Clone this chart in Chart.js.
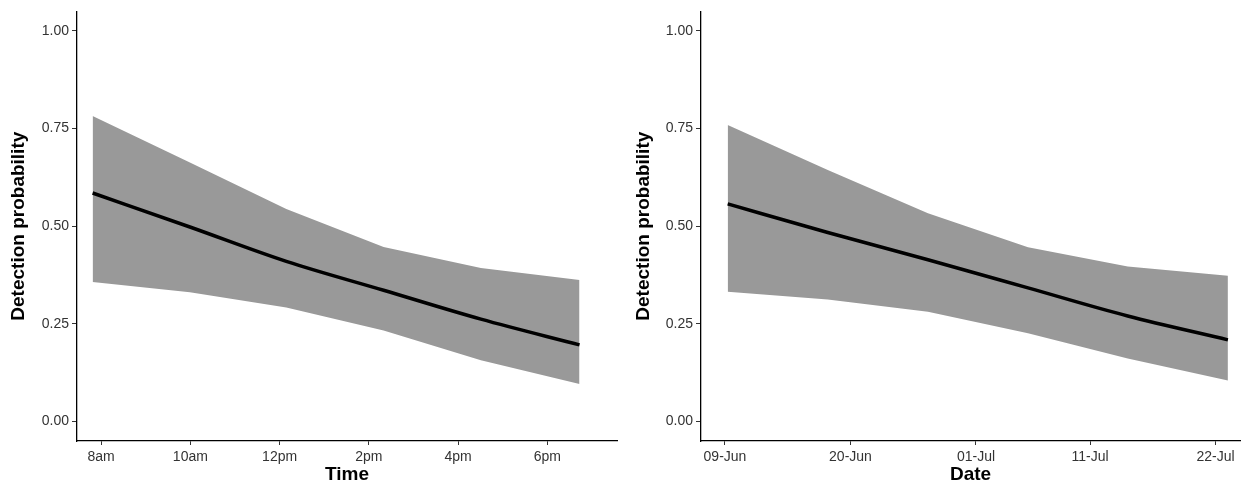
<!DOCTYPE html>
<html>
<head>
<meta charset="utf-8">
<script src="https://cdn.jsdelivr.net/npm/chart.js@4.4.1/dist/chart.umd.min.js"></script>
<style>
    html, body { margin: 0; padding: 0; background: #fff; }
    .panel { position: absolute; top: 0; height: 486px; }
    #timePanel { left: 0; width: 621px; }
    #datePanel { left: 621px; width: 624px; }
</style>
</head>
<body>
<div class="panel" id="timePanel"><canvas id="timeChart"></canvas></div>
<div class="panel" id="datePanel"><canvas id="dateChart"></canvas></div>

<script>
// Time of day (hours) panel
const timeHours = [7.81, 9.99, 12.15, 14.33, 16.51, 18.72];
const timeMean  = [0.585, 0.498, 0.410, 0.336, 0.262, 0.196];
const timeUpper = [0.782, 0.663, 0.544, 0.447, 0.393, 0.362];
const timeLower = [0.357, 0.331, 0.292, 0.233, 0.157, 0.096];
const timeTickValues = [8, 10, 12, 14, 16, 18];
const timeTickLabels = ['8am', '10am', '12pm', '2pm', '4pm', '6pm'];

// Date panel (days after 09-Jun)
const dateDays  = [0.24, 9.01, 17.79, 26.56, 35.3, 44.08];
const dateMean  = [0.557, 0.484, 0.414, 0.342, 0.270, 0.209];
const dateUpper = [0.759, 0.644, 0.533, 0.446, 0.397, 0.373];
const dateLower = [0.332, 0.312, 0.281, 0.226, 0.161, 0.105];
const dateTickValues = [0, 11, 22, 32, 43];
const dateTickLabels = ['09-Jun', '20-Jun', '01-Jul', '11-Jul', '22-Jul'];

const yTickValues = [0, 0.25, 0.5, 0.75, 1];

const FONT = '"Liberation Sans", Arial, sans-serif';

function points(xs, ys) {
    return xs.map((x, i) => ({ x: x, y: ys[i] }));
}

function makeChart(canvasId, cfg) {
    const ctx = document.getElementById(canvasId).getContext('2d');

    return new Chart(ctx, {
        type: 'line',
        data: {
            datasets: [
                {
                    // fitted line (drawn on top)
                    data: points(cfg.xs, cfg.mean),
                    borderColor: '#000',
                    borderWidth: 3.5,
                    pointRadius: 0,
                    cubicInterpolationMode: 'monotone',
                    fill: false
                },
                {
                    // upper bound, filled down to the lower bound
                    data: points(cfg.xs, cfg.upper),
                    borderWidth: 0,
                    borderColor: 'rgba(0,0,0,0)',
                    backgroundColor: '#999999',
                    pointRadius: 0,
                    fill: '+1'
                },
                {
                    data: points(cfg.xs, cfg.lower),
                    borderWidth: 0,
                    borderColor: 'rgba(0,0,0,0)',
                    pointRadius: 0,
                    fill: false
                }
            ]
        },
        options: {
            responsive: true,
            maintainAspectRatio: false,
            animation: false,
            layout: {
                padding: { top: 5, right: cfg.padRight, bottom: 0, left: 0 }
            },
            plugins: {
                legend: { display: false },
                tooltip: { enabled: false }
            },
            scales: {
                x: {
                    type: 'linear',
                    min: cfg.xMin,
                    max: cfg.xMax,
                    afterBuildTicks: axis => {
                        axis.ticks = cfg.tickValues.map(v => ({ value: v }));
                    },
                    afterFit: axis => { axis.height = 45; },
                    border: { display: true, color: '#000', width: 1.3 },
                    grid: {
                        drawOnChartArea: false,
                        drawTicks: true,
                        tickLength: 4,
                        tickColor: '#333',
                        tickWidth: 1
                    },
                    ticks: {
                        autoSkip: false,
                        maxRotation: 0,
                        padding: 4,
                        color: '#333',
                        font: { family: FONT, size: 14 },
                        callback: (value, index) => cfg.tickLabels[index]
                    },
                    title: {
                        display: true,
                        text: cfg.xTitle,
                        color: '#000',
                        padding: { top: 0, bottom: 0 },
                        font: { family: FONT, size: 19, weight: 'bold', lineHeight: 1.2 }
                    }
                },
                y: {
                    min: -0.05,
                    max: 1.05,
                    afterBuildTicks: axis => {
                        axis.ticks = yTickValues.map(v => ({ value: v }));
                    },
                    afterFit: axis => { axis.width = cfg.yWidth; },
                    border: { display: true, color: '#000', width: 1.3 },
                    grid: {
                        drawOnChartArea: false,
                        drawTicks: true,
                        tickLength: 5,
                        tickColor: '#333',
                        tickWidth: 1
                    },
                    ticks: {
                        padding: 3,
                        color: '#333',
                        font: { family: FONT, size: 14 },
                        callback: value => value.toFixed(2)
                    },
                    title: {
                        display: true,
                        text: 'Detection probability',
                        color: '#000',
                        padding: { top: cfg.yTitlePad, bottom: 0 },
                        font: { family: FONT, size: 19, weight: 'bold', lineHeight: 1.2 }
                    }
                }
            }
        }
    });
}

makeChart('timeChart', {
    xs: timeHours,
    mean: timeMean,
    upper: timeUpper,
    lower: timeLower,
    tickValues: timeTickValues,
    tickLabels: timeTickLabels,
    xTitle: 'Time',
    xMin: 7.46,
    xMax: 19.56,
    yWidth: 77,
    yTitlePad: 7,
    padRight: 4
});

makeChart('dateChart', {
    xs: dateDays,
    mean: dateMean,
    upper: dateUpper,
    lower: dateLower,
    tickValues: dateTickValues,
    tickLabels: dateTickLabels,
    xTitle: 'Date',
    xMin: -2.10,
    xMax: 45.14,
    yWidth: 80,
    yTitlePad: 11,
    padRight: 5
});
</script>
</body>
</html>
